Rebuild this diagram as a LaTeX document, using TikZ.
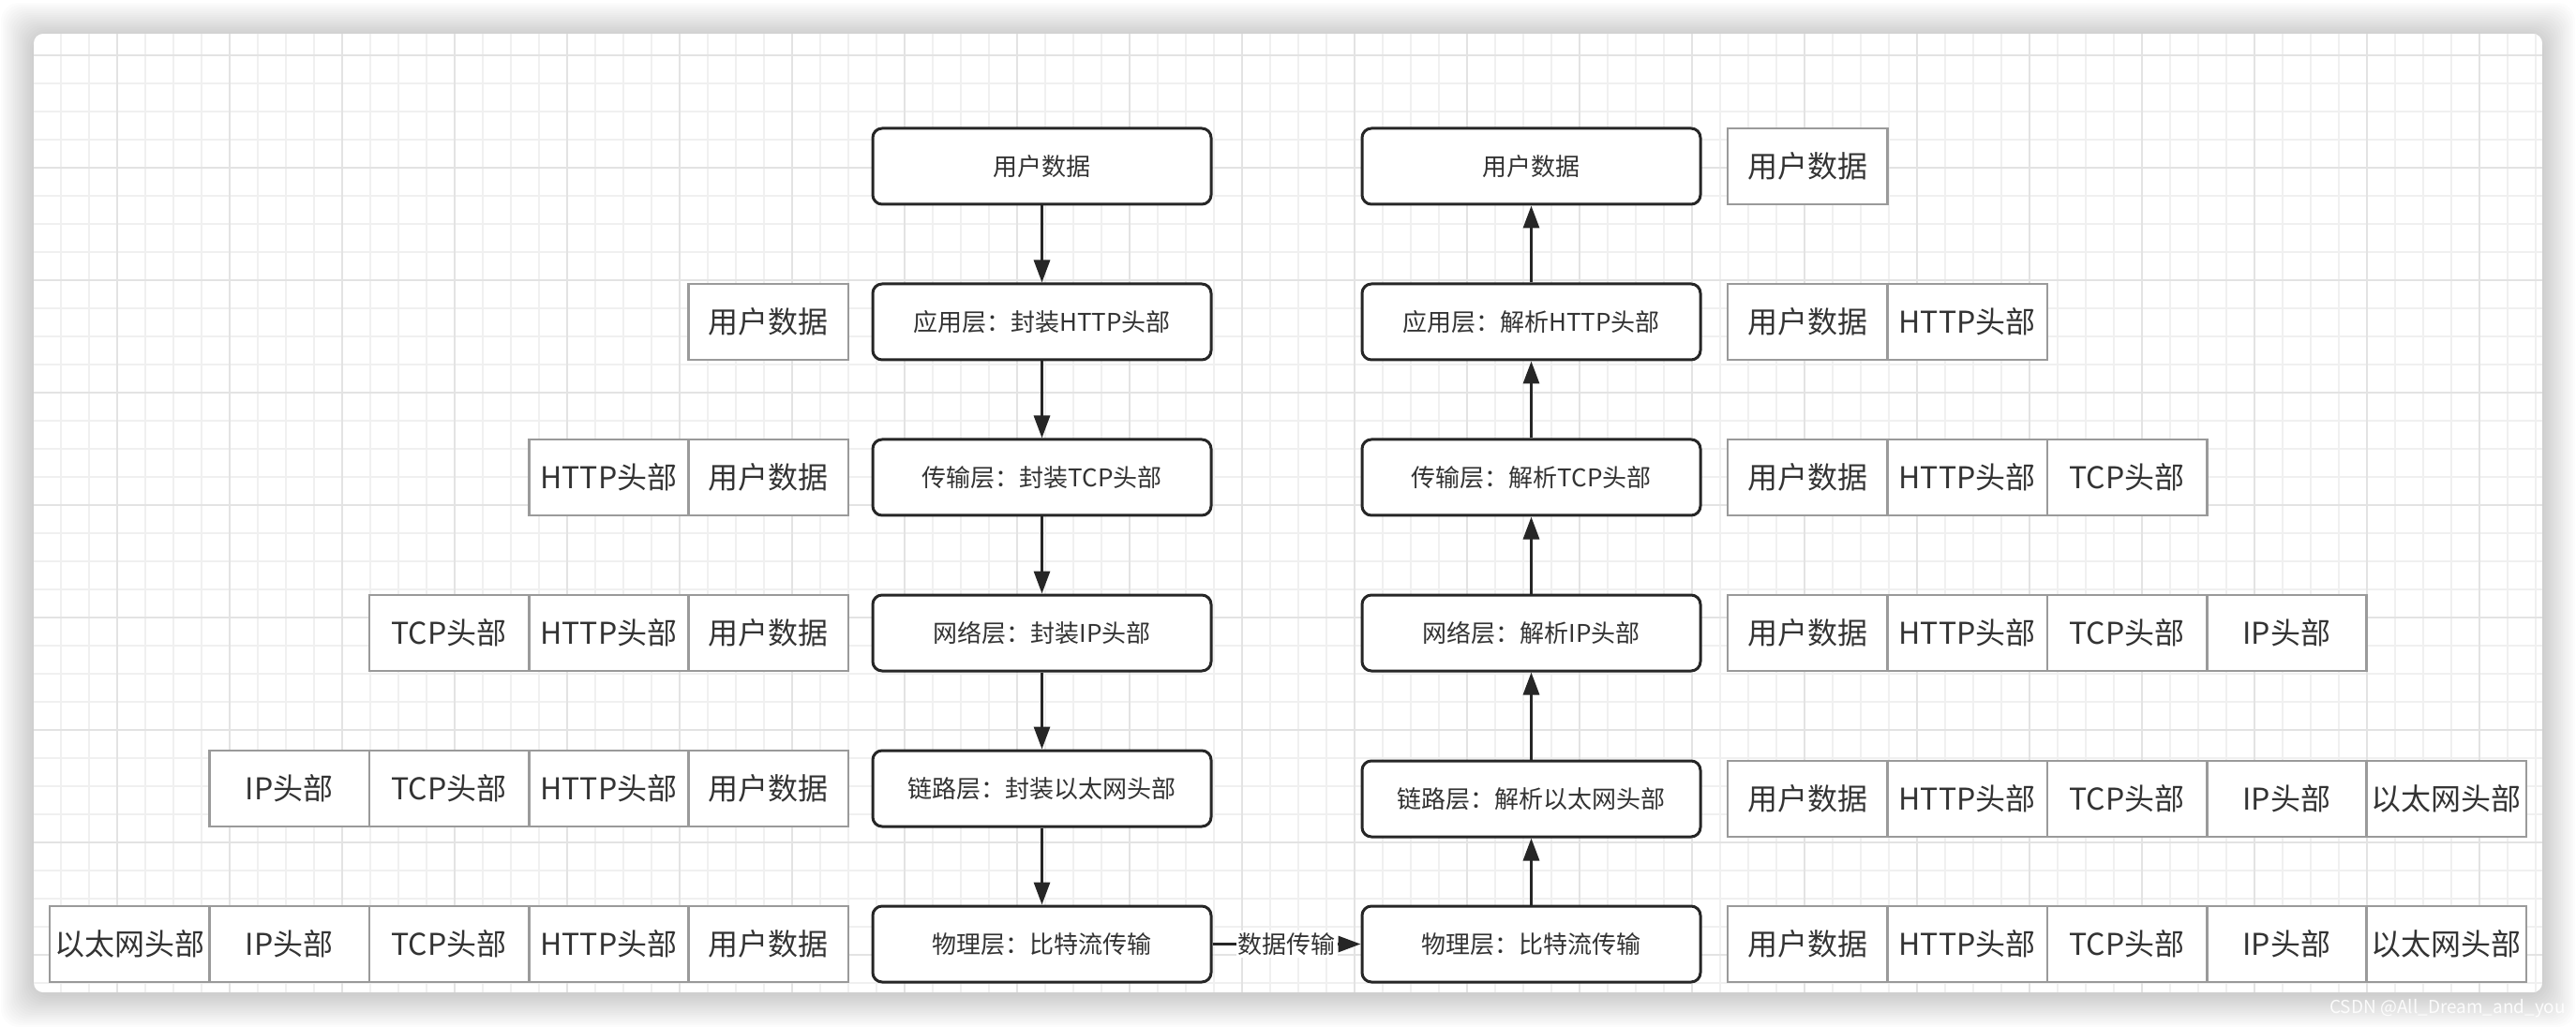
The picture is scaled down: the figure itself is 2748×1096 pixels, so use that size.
\documentclass[tikz,border=0pt]{standalone}
\usepackage{fontspec}
\setmainfont{Noto Sans CJK SC}
\usetikzlibrary{arrows.meta}
\definecolor{boxline}{HTML}{262626}
\definecolor{cellline}{HTML}{9A9A9A}
\definecolor{txt}{HTML}{333333}
\definecolor{gridA}{HTML}{F0F0F0}
\definecolor{gridB}{HTML}{E3E3E3}
\begin{document}
\begin{tikzpicture}[x=0.5pt,y=-0.5pt,
  layerbox/.style={draw=boxline, line width=1.5pt, rounded corners=5pt, fill=white,
    minimum width=180.5pt, minimum height=40.5pt, inner sep=0pt,
    font=\fontsize{13}{15}\selectfont, text=txt},
  cellbox/.style={draw=cellline, line width=1.3pt, fill=white,
    minimum width=85.2pt, minimum height=40.5pt, inner sep=0pt,
    font=\fontsize{16}{18}\selectfont, text=txt},
  flow/.style={draw=boxline, line width=1.5pt, -{Triangle[length=12pt,width=8.5pt]}},
  gridthin/.style={draw=gridA, line width=0.75pt},
  gridthick/.style={draw=gridB, line width=0.75pt},
]
\useasboundingbox (0,0) rectangle (2748,1096);
\fill[white] (0,0) rectangle (2748,1096);
% shadow
\foreach \i in {1,...,16}
  \fill[black, opacity=0.012, rounded corners=10pt]
    (36-\i*2.2, 38-\i*2.2) rectangle (2712+\i*2.2, 1061+\i*2.2);
% card with grid
\begin{scope}
  \clip[rounded corners=5pt] (36,36) rectangle (2712,1059);
  \fill[white] (36,36) rectangle (2712,1059);
  \foreach \x in {65,95,...,2705} \draw[gridthin] (\x,36) -- (\x,1059);
  \foreach \y in {59,89,...,1055} \draw[gridthin] (36,\y) -- (2712,\y);
  \foreach \x in {125,245,...,2705} \draw[gridthick] (\x,36) -- (\x,1059);
  \foreach \y in {59,179,...,1055} \draw[gridthick] (36,\y) -- (2712,\y);
\end{scope}

% left column (encapsulation)
\node[layerbox] (L1) at (1111.5,177.5) {用户数据};
\node[layerbox] (L2) at (1111.5,343.5) {应用层：封装HTTP头部};
\node[layerbox] (L3) at (1111.5,509.5) {传输层：封装TCP头部};
\node[layerbox] (L4) at (1111.5,675.5) {网络层：封装IP头部};
\node[layerbox] (L5) at (1111.5,841.5) {链路层：封装以太网头部};
\node[layerbox] (L6) at (1111.5,1007.5) {物理层：比特流传输};

% right column (decapsulation)
\node[layerbox] (R1) at (1633.5,177.5) {用户数据};
\node[layerbox] (R2) at (1633.5,343.5) {应用层：解析HTTP头部};
\node[layerbox] (R3) at (1633.5,509.5) {传输层：解析TCP头部};
\node[layerbox] (R4) at (1633.5,675.5) {网络层：解析IP头部};
\node[layerbox] (R5) at (1633.5,852.5) {链路层：解析以太网头部};
\node[layerbox] (R6) at (1633.5,1007.5) {物理层：比特流传输};

% connectors
\draw[flow] (L1) -- (L2);
\draw[flow] (L2) -- (L3);
\draw[flow] (L3) -- (L4);
\draw[flow] (L4) -- (L5);
\draw[flow] (L5) -- (L6);
\draw[flow] (L6) -- node[fill=white, inner sep=1pt, text=txt, font=\fontsize{13}{15}\selectfont] (lbl) {数据传输} (R6);
\draw[flow] (R6) -- (R5);
\draw[flow] (R5) -- (R4);
\draw[flow] (R4) -- (R3);
\draw[flow] (R3) -- (R2);
\draw[flow] (R2) -- (R1);

% left packets
\node[cellbox] (a2e) at (819.8,343.5) {用户数据};

\node[cellbox] (a3d) at (649.4,509.5) {HTTP头部};
\node[cellbox] (a3e) at (819.8,509.5) {用户数据};

\node[cellbox] (a4c) at (479.0,675.5) {TCP头部};
\node[cellbox] (a4d) at (649.4,675.5) {HTTP头部};
\node[cellbox] (a4e) at (819.8,675.5) {用户数据};

\node[cellbox] (a5b) at (308.6,841.5) {IP头部};
\node[cellbox] (a5c) at (479.0,841.5) {TCP头部};
\node[cellbox] (a5d) at (649.4,841.5) {HTTP头部};
\node[cellbox] (a5e) at (819.8,841.5) {用户数据};

\node[cellbox] (a6a) at (138.2,1007.5) {以太网头部};
\node[cellbox] (a6b) at (308.6,1007.5) {IP头部};
\node[cellbox] (a6c) at (479.0,1007.5) {TCP头部};
\node[cellbox] (a6d) at (649.4,1007.5) {HTTP头部};
\node[cellbox] (a6e) at (819.8,1007.5) {用户数据};

% right packets
\node[cellbox] (b1a) at (1928.2,177.5) {用户数据};

\node[cellbox] (b2a) at (1928.2,343.5) {用户数据};
\node[cellbox] (b2b) at (2098.6,343.5) {HTTP头部};

\node[cellbox] (b3a) at (1928.2,509.5) {用户数据};
\node[cellbox] (b3b) at (2098.6,509.5) {HTTP头部};
\node[cellbox] (b3c) at (2269.0,509.5) {TCP头部};

\node[cellbox] (b4a) at (1928.2,675.5) {用户数据};
\node[cellbox] (b4b) at (2098.6,675.5) {HTTP头部};
\node[cellbox] (b4c) at (2269.0,675.5) {TCP头部};
\node[cellbox] (b4d) at (2439.4,675.5) {IP头部};

\node[cellbox] (b5a) at (1928.2,852.5) {用户数据};
\node[cellbox] (b5b) at (2098.6,852.5) {HTTP头部};
\node[cellbox] (b5c) at (2269.0,852.5) {TCP头部};
\node[cellbox] (b5d) at (2439.4,852.5) {IP头部};
\node[cellbox] (b5e) at (2609.8,852.5) {以太网头部};

\node[cellbox] (b6a) at (1928.2,1007.5) {用户数据};
\node[cellbox] (b6b) at (2098.6,1007.5) {HTTP头部};
\node[cellbox] (b6c) at (2269.0,1007.5) {TCP头部};
\node[cellbox] (b6d) at (2439.4,1007.5) {IP头部};
\node[cellbox] (b6e) at (2609.8,1007.5) {以太网头部};

% watermark
\node[text=white, opacity=0.9, font=\fontsize{9.5}{11}\selectfont, inner sep=0pt] (wm) at (2611,1076) {CSDN @All\_Dream\_and\_you};
\end{tikzpicture}
\end{document}
